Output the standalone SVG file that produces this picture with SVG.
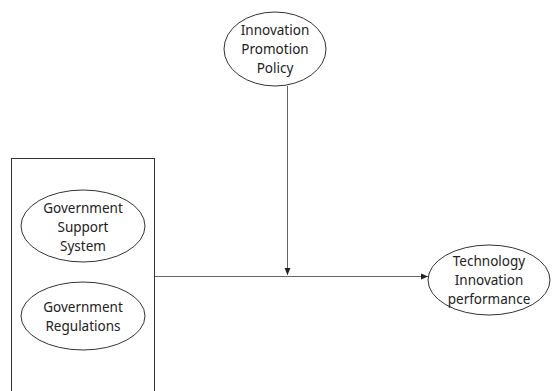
<svg xmlns="http://www.w3.org/2000/svg" width="552" height="391" viewBox="0 0 552 391">
<style>
.n{fill:#fff;stroke:#333;stroke-width:1}
.t{font-family:"Noto Sans","Open Sans",sans-serif;font-size:13.5px;fill:#222;text-anchor:middle}
.c{stroke:#666;stroke-width:1;fill:none}
</style>
<defs>
<marker id="ah" markerWidth="8" markerHeight="8" refX="7" refY="4" orient="auto" markerUnits="userSpaceOnUse">
<path d="M0,1 L7,4 L0,7 Z" fill="#222"/>
</marker>
</defs>
<rect width="552" height="391" fill="#fff"/>
<g id="box"><rect x="11.5" y="158.5" width="143" height="240" class="n"/></g>
<g id="policy"><ellipse cx="275" cy="49" rx="51" ry="37" class="n"/>
<text class="t" x="275" y="35">Innovation</text><text class="t" x="275" y="54">Promotion</text><text class="t" x="275" y="73">Policy</text></g>
<g id="support"><ellipse cx="83" cy="226" rx="62" ry="36" class="n"/>
<text class="t" x="83" y="213">Government</text><text class="t" x="83" y="232">Support</text><text class="t" x="83" y="251">System</text></g>
<g id="regulations"><ellipse cx="83" cy="316" rx="62" ry="34" class="n"/>
<text class="t" x="83" y="312">Government</text><text class="t" x="83" y="331">Regulations</text></g>
<g id="performance"><ellipse cx="489" cy="280" rx="61" ry="35" class="n"/>
<text class="t" x="489" y="266">Technology</text><text class="t" x="489" y="285">Innovation</text><text class="t" x="489" y="304">performance</text></g>
<g id="connectors">
<line x1="287.5" y1="86" x2="287.5" y2="275" class="c" marker-end="url(#ah)"/>
<line x1="155" y1="276.5" x2="428" y2="276.5" class="c" marker-end="url(#ah)"/>
</g>
</svg>
